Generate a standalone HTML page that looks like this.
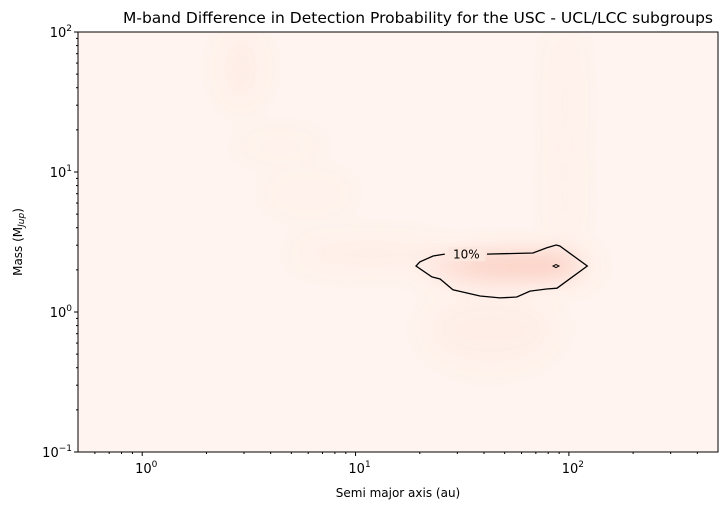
<!DOCTYPE html>
<html><head><meta charset="utf-8"><style>
body{margin:0;background:#fff;font-family:"Liberation Sans","DejaVu Sans",sans-serif}
svg text{font-family:"DejaVu Sans","Liberation Sans",sans-serif}
</style></head><body>
<svg id="chart" width="727" height="510" xmlns="http://www.w3.org/2000/svg">
<defs>
<filter id="blur" x="-50%" y="-50%" width="200%" height="200%"><feGaussianBlur stdDeviation="13"/></filter>
<clipPath id="clip"><rect x="78" y="32" width="640" height="420"/></clipPath>
</defs>
<rect x="78" y="32" width="640" height="420" fill="#fff4ef"/>
<g clip-path="url(#clip)"><g id="heat" filter="url(#blur)"></g></g>
<g id="contour"></g>
<rect x="78" y="32" width="640" height="420" fill="none" stroke="#000" stroke-width="1"/>
<g id="axes"></g>
<text x="418" y="23" font-size="15.5" text-anchor="middle" textLength="590" lengthAdjust="spacingAndGlyphs">M-band Difference in Detection Probability for the USC - UCL/LCC subgroups</text>
<text x="398" y="497" font-size="12" text-anchor="middle">Semi major axis (au)</text>
<text transform="translate(22,242) rotate(-90)" font-size="12" text-anchor="middle">Mass (M<tspan font-size="9" dy="2" font-style="italic">Jup</tspan><tspan dy="-2">)</tspan></text>
</svg>
<script>
// heat blobs: semi-major axis (au), mass (Mjup), difference value, spread in decades (a, m)
const blobA=[47,60,11.7,96,96,2.9,4.4,6,43,90];
const blobM=[2.1,2.2,2.6,30,6,55,15.5,7,0.75,2.1];
const blobV=[0.32,0.25,0.08,0.05,0.05,0.07,0.05,0.03,0.06,0.18];
const blobSA=[0.35,0.3,0.35,0.05,0.05,0.08,0.2,0.2,0.3,0.15];
const blobSM=[0.07,0.06,0.08,0.55,0.35,0.25,0.04,0.1,0.25,0.06];
// contour (10%) path data
const contA=[26.2,23.1,20.0,19.2,22.8,24.9,28.6,38.3,47.5,57.0,65.7,78.5,88.0,122,90.7,87.1,78.5,67.9,41.3];
const contM=[2.59,2.51,2.28,2.13,1.78,1.72,1.44,1.30,1.26,1.28,1.41,1.46,1.48,2.13,2.96,3.01,2.87,2.64,2.59];
const xTicks=[1,10,100];
const xTickLabels=["0","1","2"];
const yTicks=[0.1,1,10,100];
const yTickLabels=["−1","0","1","2"];
const X0=78,X1=718,Y0=32,Y1=452,xmin=Math.log10(0.5),xmax=Math.log10(500),ymin=-1,ymax=2;
const sx=a=>X0+(Math.log10(a)-xmin)/(xmax-xmin)*(X1-X0);
const sy=m=>Y1-(Math.log10(m)-ymin)/(ymax-ymin)*(Y1-Y0);
const pxA=(X1-X0)/(xmax-xmin),pxM=(Y1-Y0)/(ymax-ymin);
const NS="http://www.w3.org/2000/svg";
const heat=document.getElementById('heat');
for(let i=0;i<blobA.length;i++){
 const e=document.createElementNS(NS,'ellipse');
 
 
 e.setAttribute('cx',sx(blobA[i]));e.setAttribute('cy',sy(blobM[i]));
 e.setAttribute('rx',blobSA[i]*pxA);e.setAttribute('ry',blobSM[i]*pxM);
 e.setAttribute('fill','#f4866a');e.setAttribute('fill-opacity',blobV[i]);
 heat.appendChild(e);
}
const cg=document.getElementById('contour');
let d='';
for(let i=0;i<contA.length;i++){d+=(i?'L':'M')+sx(contA[i]).toFixed(1)+','+sy(contM[i]).toFixed(1);}
const p=document.createElementNS(NS,'path');


p.setAttribute('d',d);p.setAttribute('fill','none');p.setAttribute('stroke','#000');p.setAttribute('stroke-width','1.3');
cg.appendChild(p);
const lbgA=[27,40.5],lbgM=2.59;
const bg=document.createElementNS(NS,'rect');


bg.setAttribute('x',sx(lbgA[0]));bg.setAttribute('y',sy(lbgM)-7);bg.setAttribute('width',sx(lbgA[1])-sx(lbgA[0]));bg.setAttribute('height',14);bg.setAttribute('fill','#fde8df');
cg.appendChild(bg);
const lt=document.createElementNS(NS,'text');


lt.setAttribute('x',(sx(lbgA[0])+sx(lbgA[1]))/2);lt.setAttribute('y',sy(lbgM)+4.5);lt.setAttribute('font-size','12');lt.setAttribute('text-anchor','middle');
lt.textContent='10%';cg.appendChild(lt);
const dm=document.createElementNS(NS,'path');


const dx=sx(87),dy=sy(2.13);
dm.setAttribute('d',`M${dx-3},${dy}L${dx},${dy-1.5}L${dx+3},${dy}L${dx},${dy+1.5}Z`);dm.setAttribute('fill','none');dm.setAttribute('stroke','#000');
cg.appendChild(dm);
const ax=document.getElementById('axes');
function line(x1,y1,x2,y2,name){const l=document.createElementNS(NS,'line');
 
 
 l.setAttribute('x1',x1);l.setAttribute('y1',y1);l.setAttribute('x2',x2);l.setAttribute('y2',y2);l.setAttribute('stroke','#000');ax.appendChild(l);}
function label(x,y,exp,anchor,name){const t=document.createElementNS(NS,'text');
 
 
 t.setAttribute('x',x);t.setAttribute('y',y);t.setAttribute('font-size','13');t.setAttribute('text-anchor',anchor);
 t.innerHTML='10<tspan font-size="9" dy="-6">'+exp+'</tspan>';ax.appendChild(t);}
xTicks.forEach((v,i)=>{line(sx(v),Y1,sx(v),Y1+4,'x-tick');label(sx(v)+4,Y1+21,xTickLabels[i],'middle','x-tick-label');});
for(let dec=-1;dec<3;dec++)for(let k=2;k<10;k++){const v=k*Math.pow(10,dec);if(v>0.5&&v<500)line(sx(v),Y1,sx(v),Y1+2,'x-minor-tick');}
yTicks.forEach((v,i)=>{line(X0-4,sy(v),X0,sy(v),'y-tick');label(X0-6,sy(v)+5,yTickLabels[i],'end','y-tick-label');});
for(let dec=-1;dec<2;dec++)for(let k=2;k<10;k++){const v=k*Math.pow(10,dec);line(X0-2,sy(v),X0,sy(v),'y-minor-tick');}
</script>
</body></html>
